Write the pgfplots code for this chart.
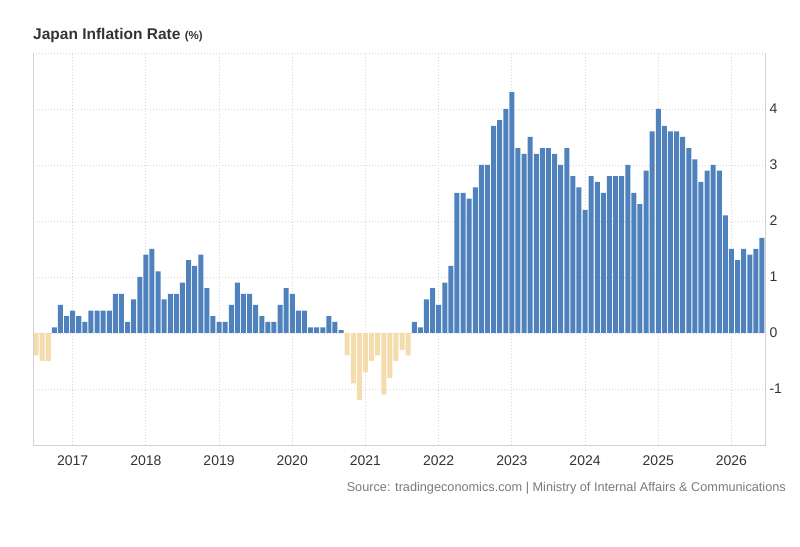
\documentclass[border=0pt]{standalone}
\usepackage{fontspec}
\setmainfont{Liberation Sans}
\usepackage{pgfplots}
\pgfplotsset{compat=1.18}
\usepackage{pgfplotstable}

\definecolor{barblue}{HTML}{4F81BD}
\definecolor{bartan}{HTML}{F5DCAC}
\definecolor{gridgray}{HTML}{D6D6D6}
\definecolor{framegray}{HTML}{D0D0D0}
\definecolor{labelgray}{HTML}{333333}
\definecolor{sourcegray}{HTML}{7A7A7A}

% Japan CPI, year-on-year change (%), monthly; m = months since Jul 2016
\pgfplotstableread{
m v
0 -0.4
1 -0.5
2 -0.5
3 0.1
4 0.5
5 0.3
6 0.4
7 0.3
8 0.2
9 0.4
10 0.4
11 0.4
12 0.4
13 0.7
14 0.7
15 0.2
16 0.6
17 1.0
18 1.4
19 1.5
20 1.1
21 0.6
22 0.7
23 0.7
24 0.9
25 1.3
26 1.2
27 1.4
28 0.8
29 0.3
30 0.2
31 0.2
32 0.5
33 0.9
34 0.7
35 0.7
36 0.5
37 0.3
38 0.2
39 0.2
40 0.5
41 0.8
42 0.7
43 0.4
44 0.4
45 0.1
46 0.1
47 0.1
48 0.3
49 0.2
50 0.05
51 -0.4
52 -0.9
53 -1.2
54 -0.7
55 -0.5
56 -0.4
57 -1.1
58 -0.8
59 -0.5
60 -0.3
61 -0.4
62 0.2
63 0.1
64 0.6
65 0.8
66 0.5
67 0.9
68 1.2
69 2.5
70 2.5
71 2.4
72 2.6
73 3.0
74 3.0
75 3.7
76 3.8
77 4.0
78 4.3
79 3.3
80 3.2
81 3.5
82 3.2
83 3.3
84 3.3
85 3.2
86 3.0
87 3.3
88 2.8
89 2.6
90 2.2
91 2.8
92 2.7
93 2.5
94 2.8
95 2.8
96 2.8
97 3.0
98 2.5
99 2.3
100 2.9
101 3.6
102 4.0
103 3.7
104 3.6
105 3.6
106 3.5
107 3.3
108 3.1
109 2.7
110 2.9
111 3.0
112 2.9
113 2.1
114 1.5
115 1.3
116 1.5
117 1.4
118 1.5
119 1.7
}\cpi

\begin{document}
\begin{tikzpicture}
\useasboundingbox (0pt,0pt) rectangle (800pt,546pt);
\coordinate (origin) at (33pt,101pt);
\begin{axis}[
  at={(origin)}, anchor=south west,
  scale only axis, width=732pt, height=392pt,
  xmin=-0.5, xmax=119.5, ymin=-2, ymax=5,
  ybar, bar width=0.82,
  xtick={6,18,30,42,54,66,78,90,102,114},
  xticklabels={2017,2018,2019,2020,2021,2022,2023,2024,2025,2026},
  ytick={-1,0,1,2,3,4},
  yticklabels={-1,0,1,2,3,4},
  yticklabel pos=right,
  major tick length=0pt,
  grid=major,
  major grid style={gridgray, dash pattern=on 1.3pt off 1.7pt, line width=0.8pt},
  axis line style={draw=none},
  tick label style={font=\fontsize{14}{16}\selectfont, text=labelgray},
  xticklabel style={yshift=-7pt},
  yticklabel style={xshift=1pt},
  clip=false,
]
\addplot[fill=barblue, draw=none, bar shift=0pt, restrict y to domain=0:10]
  table[x=m, y=v] {\cpi};
\addplot[fill=bartan, draw=none, bar shift=0pt, restrict y to domain=-10:-0.001]
  table[x=m, y=v] {\cpi};
% frame: solid on three sides, dotted along the top
\draw[framegray, line width=1pt]
  (rel axis cs:0,1) -- (rel axis cs:0,0) -- (rel axis cs:1,0) -- (rel axis cs:1,1);
\draw[gridgray, dash pattern=on 1.3pt off 1.7pt, line width=0.8pt]
  (rel axis cs:0,1) -- (rel axis cs:1,1);
\end{axis}
\node[anchor=base west, inner sep=0, text=labelgray] at (33pt,506pt)
  {\fontsize{15.5}{18}\selectfont\bfseries Japan Inflation Rate {\fontsize{11.5}{13}\selectfont(\%)}};
\node[anchor=base east, inner sep=0, text=sourcegray] at (786pt,54pt)
  {\fontsize{12.7}{14}\selectfont Source: tradingeconomics.com | Ministry of Internal Affairs \& Communications};
\end{tikzpicture}
\end{document}
